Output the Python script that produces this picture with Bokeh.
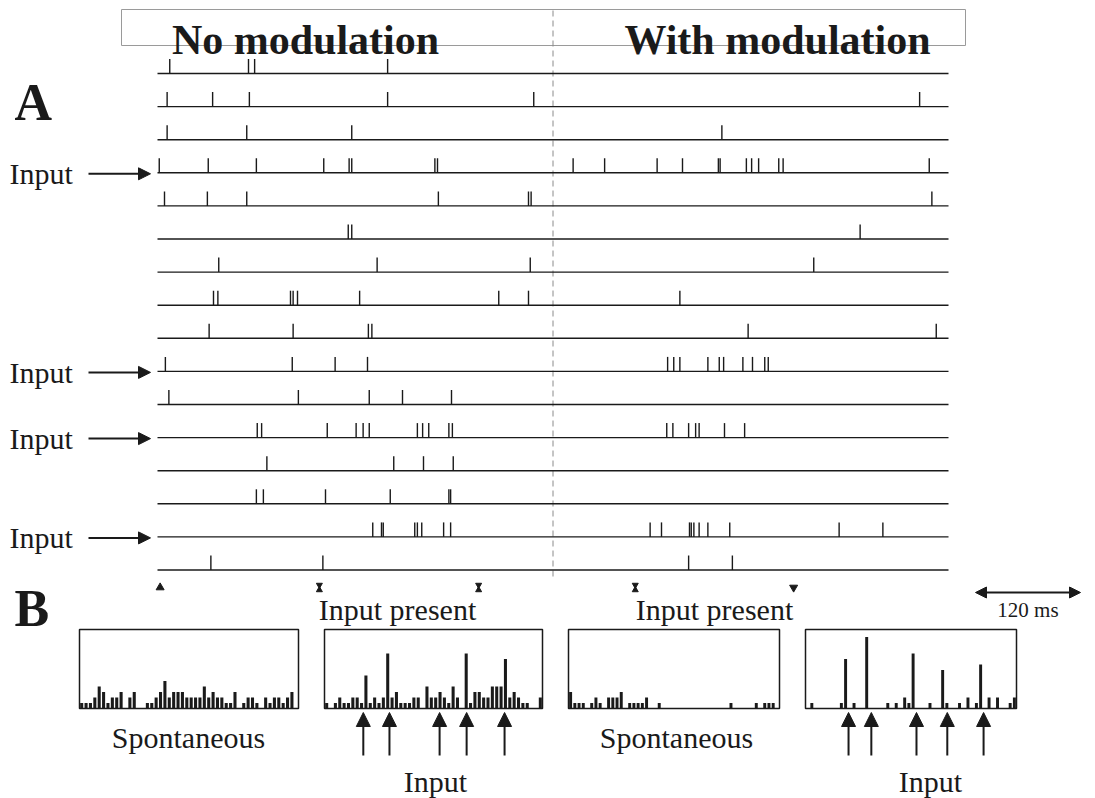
from bokeh.plotting import figure
from bokeh.models import Range1d, Arrow, NormalHead
from bokeh.core.properties import value
from bokeh.embed import file_html
from bokeh.resources import INLINE

# ---------------- data ----------------
# spike times (ms) for each of the 16 recorded traces (panel A)
spikes = [
    [14, 104, 111, 263],
    [11, 63, 105, 263, 430, 871],
    [11, 102, 222, 645],
    [2, 58, 113, 190, 219, 222, 317, 320, 475, 511, 571, 600, 641, 643, 673, 679, 687, 710, 715, 882],
    [8, 57, 102, 321, 424, 427, 885],
    [218, 222, 803],
    [70, 251, 426, 750],
    [64, 69, 152, 155, 160, 231, 390, 424, 597],
    [59, 155, 241, 245, 675, 890],
    [9, 154, 203, 240, 583, 590, 597, 629, 642, 647, 669, 680, 694, 698],
    [13, 161, 242, 280, 336],
    [114, 119, 194, 227, 235, 242, 297, 303, 310, 333, 337, 582, 589, 607, 615, 619, 648, 671],
    [125, 270, 304, 338],
    [113, 121, 192, 266, 333, 335],
    [246, 256, 258, 294, 297, 302, 327, 335, 563, 576, 608, 610, 613, 619, 629, 654, 779, 829],
    [61, 189, 607, 657],
]
input_rows = [3, 9, 11, 14]          # traces receiving input (0-based)
trace_duration = 904                 # ms
modulation_onset = 452               # ms (dashed line)
marker_times = [3, 185, 367, 546, 727]
marker_kinds = ["up", "hour", "hour", "hour", "down"]
scale_ms = 120

# PSTH counts (50 bins each), panel B
hist_spont_nomod = [1, 1, 1, 2, 4, 3, 1, 2, 2, 3, 0, 2, 3, 0, 0, 1, 1, 2, 3, 5,
                    2, 3, 3, 3, 2, 2, 2, 2, 4, 2, 3, 2, 2, 1, 1, 3, 0, 1, 2, 2,
                    1, 0, 2, 1, 2, 2, 1, 2, 3, 0]
hist_input_nomod = [1, 0, 1, 2, 1, 1, 2, 2, 1, 6, 1, 2, 1, 2, 10, 2, 3, 1, 1, 1,
                    2, 2, 0, 4, 2, 2, 3, 2, 1, 4, 2, 0, 10, 1, 3, 3, 2, 2, 4, 4,
                    4, 9, 2, 3, 2, 1, 1, 0, 0, 2]
hist_spont_mod = [3, 1, 1, 1, 0, 1, 2, 1, 0, 2, 2, 2, 3, 0, 1, 1, 1, 1, 2, 0,
                  0, 1, 0, 0, 0, 0, 0, 0, 0, 0, 0, 0, 0, 0, 0, 0, 0, 0, 1, 0,
                  0, 0, 0, 0, 1, 0, 1, 1, 1, 0]
hist_input_mod = [0, 1, 0, 0, 0, 0, 0, 0, 1, 9, 0, 1, 0, 0, 13, 0, 0, 0, 0, 1,
                  0, 1, 0, 2, 1, 10, 0, 0, 0, 1, 0, 0, 7, 1, 0, 0, 1, 0, 2, 0,
                  1, 8, 0, 2, 0, 2, 0, 0, 1, 2]
input_bins_nomod = [8.9, 14.9, 26.4, 32.6, 41.3]
input_bins_mod = [10.2, 15.6, 26.3, 33.6, 42.2]

# ---------------- layout constants ----------------
X0, PX_MS = 157.0, 0.875
ROW0, ROW_STEP, SPIKE_H = 73.0, 33.1, 14.5
FONT = value("Liberation Serif")
INK = "#1a1a1a"

def tx(t):
    return X0 + t * PX_MS

p = figure(width=1095, height=798, x_range=Range1d(0, 1095), y_range=Range1d(798, 0),
           output_backend="svg", toolbar_location=None, min_border=0,
           x_axis_type=None, y_axis_type=None)
p.grid.visible = False
p.outline_line_color = None
p.background_fill_color = "white"

# title box
p.quad(left=[121], right=[965], top=[9], bottom=[45], fill_color=None,
       line_color="#9a9a9a", line_width=1)
p.text(x=[305, 777], y=[39, 39], text=["No modulation", "With modulation"],
       text_font=FONT, text_font_size="42px", text_font_style="bold",
       text_align="center", text_baseline="alphabetic", text_color=INK)

# panel letters
p.text(x=[14, 14], y=[102, 608], text=["A", "B"], text_font=FONT,
       text_font_size="52px", text_font_style="bold", text_align="left",
       text_baseline="alphabetic", text_color=INK)

# modulation onset dashed line
p.segment(x0=[tx(modulation_onset)], y0=[10], x1=[tx(modulation_onset)], y1=[578],
          line_color="#8a8a8a", line_width=1, line_dash="6 4")

# traces
rows_y = [ROW0 + i * ROW_STEP for i in range(len(spikes))]
p.segment(x0=[tx(0)] * len(rows_y), y0=rows_y, x1=[tx(trace_duration)] * len(rows_y),
          y1=rows_y, line_color=INK, line_width=1.4)
sx, sy0, sy1 = [], [], []
for i, st in enumerate(spikes):
    for t in st:
        sx.append(tx(t)); sy0.append(rows_y[i]); sy1.append(rows_y[i] - SPIKE_H)
p.segment(x0=sx, y0=sy0, x1=sx, y1=sy1, line_color=INK, line_width=1.4)

# input labels
for r in input_rows:
    y = rows_y[r]
    p.text(x=[9], y=[y + 1], text=["Input"], text_font=FONT, text_font_size="30px",
           text_align="left", text_baseline="alphabetic", text_color=INK)
    p.add_layout(Arrow(end=NormalHead(size=12, fill_color=INK, line_color=INK),
                       x_start=88, y_start=y + 1, x_end=150, y_end=y + 1,
                       line_color=INK, line_width=2))

# time markers
my = 587
for t, k in zip(marker_times, marker_kinds):
    if k == "up":
        p.scatter([tx(t)], [my], marker="triangle", size=8, color=INK)
    elif k == "down":
        p.scatter([tx(t)], [my], marker="inverted_triangle", size=8, color=INK)
    else:
        p.scatter([tx(t)], [my - 2.5], marker="inverted_triangle", size=6, color=INK)
        p.scatter([tx(t)], [my + 2.5], marker="triangle", size=6, color=INK)

p.text(x=[397, 714], y=[609, 609], text=["Input present", "Input present"],
       text_font=FONT, text_font_size="30px", text_align="center",
       text_baseline="alphabetic", text_color=INK)

# scale bar
sb_x0 = 975
p.add_layout(Arrow(start=NormalHead(size=11, fill_color=INK, line_color=INK),
                   end=NormalHead(size=11, fill_color=INK, line_color=INK),
                   x_start=sb_x0, y_start=592, x_end=sb_x0 + scale_ms * PX_MS, y_end=592,
                   line_color=INK, line_width=2))
p.text(x=[sb_x0 + scale_ms * PX_MS / 2], y=[609], text=["%d ms" % scale_ms],
       text_font=FONT, text_font_size="21px", text_align="center",
       text_baseline="alphabetic", text_color=INK)

# histograms
BOX_TOP, BOX_BOT, UNIT = 629, 708, 5.5
boxes = [
    (79, 298, hist_spont_nomod, None),
    (324, 542, hist_input_nomod, input_bins_nomod),
    (568, 779, hist_spont_mod, None),
    (805, 1016, hist_input_mod, input_bins_mod),
]
for left, right, counts, arrows in boxes:
    n = len(counts)
    pitch = (right - left) / n
    xs = [left + (i + 0.5) * pitch for i in range(n) if counts[i] > 0]
    tops = [BOX_BOT - c * UNIT for c in counts if c > 0]
    p.vbar(x=xs, top=tops, bottom=BOX_BOT, width=pitch * 0.7, fill_color=INK,
           line_color=None)
    p.quad(left=[left], right=[right], top=[BOX_TOP], bottom=[BOX_BOT],
           fill_color=None, line_color=INK, line_width=1.5)
    if arrows:
        for b in arrows:
            ax = left + b * pitch
            p.add_layout(Arrow(end=NormalHead(size=14, fill_color=INK, line_color=INK),
                               x_start=ax, y_start=755, x_end=ax, y_end=712,
                               line_color=INK, line_width=2))

p.text(x=[188, 676], y=[737, 737], text=["Spontaneous", "Spontaneous"],
       text_font=FONT, text_font_size="30px", text_align="center",
       text_baseline="alphabetic", text_color=INK)
p.text(x=[435, 930], y=[781, 781], text=["Input", "Input"],
       text_font=FONT, text_font_size="30px", text_align="center",
       text_baseline="alphabetic", text_color=INK)

open("out.html", "w").write(file_html(p, INLINE))
